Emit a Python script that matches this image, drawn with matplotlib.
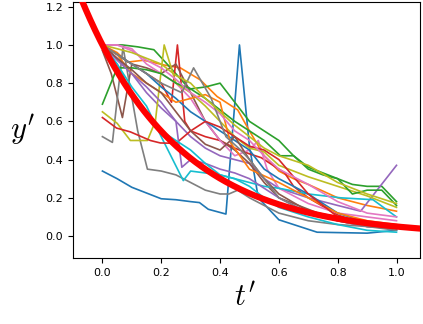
import matplotlib
matplotlib.use('Agg')
import matplotlib.pyplot as plt
import numpy as np

# normalised curves, one per sample (x = t', y = y')
series = [
    ([0, .05, .1, .15, .2, .25, .3, .33, .36, .42, .466, .5, .53, .6, .67, .73, .9, 1.0],
     [.34, .30, .255, .225, .195, .19, .18, .175, .14, .115, 1.0, .47, .2, .085, .05, .02, .015, .03]),
    ([0, .05, .085, .14, .21, .265, .333, .39, .46, .5, .55, .6, .65, .7, .8, .9, 1.0],
     [1.0, .96, .91, .92, .895, .88, .817, .73, .66, .55, .42, .34, .3, .27, .2, .16, .13]),
    ([0, .068, .12, .175, .22, .29, .35, .4, .45, .5, .55, .605, .65, .7, .75, .8, .85, .9, .95, 1.0],
     [1.0, 1.0, .99, .975, .9, .78, .72, .66, .6, .55, .5, .42, .42, .36, .33, .3, .27, .26, .26, .18]),
    ([0, .05, .1, .15, .2, .235, .255, .28, .3, .35, .4, .45, .5, .54, .62, .65, .7, .8, .9, 1.0],
     [1.0, .95, .9, .85, .8, .7, 1.0, .6, .55, .52, .5, .46, .43, .41, .33, .26, .2, .11, .06, .04]),
    ([0, .05, .1, .15, .2, .25, .3, .35, .4, .45, .5, .55, .6, .7, .8, .878, 1.0],
     [1.0, .93, .85, .75, .67, .6, .52, .46, .42, .4, .38, .3, .25, .2, .16, .13, .37]),
    ([0, .03, .068, .1, .15, .2, .25, .3, .35, .4, .45, .5, .55, .6, .7, .8, .9, 1.0],
     [.97, .85, .62, .9, .88, .85, .9, .75, .6, .5, .45, .38, .28, .2, .14, .08, .05, .04]),
    ([0, .05, .1, .15, .2, .25, .3, .35, .4, .45, .5, .53, .56, .6, .7, .8, .9, 1.0],
     [1.0, 1.0, .98, .9, .85, .8, .72, .6, .5, .42, .45, .5, .35, .25, .17, .12, .1, .08]),
    ([0, .034, .07, .12, .153, .2, .25, .3, .35, .4, .43, .46, .5, .55, .6, .7, .8, .9, 1.0],
     [.52, .49, .99, .55, .35, .34, .32, .28, .24, .22, .22, .24, .2, .16, .12, .08, .06, .05, .04]),
    ([0, .05, .095, .153, .18, .21, .25, .3, .35, .4, .45, .5, .55, .6, .7, .8, .9, 1.0],
     [.65, .59, .5, .5, .6, 1.0, .8, .75, .68, .6, .52, .46, .44, .37, .31, .26, .21, .15]),
    ([0, .05, .1, .15, .2, .275, .3, .35, .4, .45, .5, .55, .6, .7, .81, .92, 1.0],
     [1.0, .9, .78, .68, .52, .29, .34, .33, .32, .3, .28, .26, .25, .22, .2, .19, .1]),
    ([0, .05, .1, .15, .2, .25, .3, .35, .4, .45, .5, .55, .6, .7, .8, .9, 1.0],
     [1.0, .95, .9, .85, .78, .72, .65, .6, .55, .5, .45, .35, .3, .22, .12, .07, .04]),
    ([0, .05, .1, .15, .2, .25, .3, .35, .4, .41, .435, .5, .6, .7, .8, .9, 1.0],
     [1.0, .95, .85, .8, .75, .7, .72, .74, .7, .64, .49, .35, .28, .2, .12, .08, .06]),
    ([0, .05, .1, .15, .2, .25, .3, .35, .4, .45, .5, .55, .6, .65, .7, .75, .8, .85, .9, .95, 1.0],
     [.69, .88, .88, .87, .85, .8, .77, .78, .8, .7, .6, .55, .5, .42, .35, .32, .3, .22, .24, .24, .16]),
    ([0, .048, .095, .163, .197, .25, .3, .35, .4, .45, .5, .55, .6, .7, .8, .9, 1.0],
     [.62, .565, .545, .5, .487, .485, .55, .6, .57, .52, .47, .45, .4, .22, .1, .06, .04]),
    ([0, .05, .1, .15, .2, .25, .27, .3, .35, .4, .45, .5, .55, .6, .7, .8, .9, 1.0],
     [1.0, .92, .85, .78, .7, .6, .36, .4, .38, .35, .33, .3, .25, .2, .12, .08, .05, .04]),
    ([0, .05, .1, .15, .2, .25, .3, .35, .4, .45, .5, .55, .6, .7, .8, .9, 1.0],
     [1.0, .93, .87, .8, .75, .65, .55, .48, .45, .52, .4, .3, .22, .13, .1, .06, .05]),
    ([0, .05, .1, .15, .2, .25, .3, .35, .4, .45, .5, .55, .6, .7, .8, .9, 1.0],
     [1.0, 1.0, .97, .92, .88, .82, .75, .7, .64, .55, .5, .42, .35, .27, .18, .12, .1]),
    ([0, .05, .1, .15, .2, .27, .31, .37, .42, .47, .5, .55, .6, .7, .8, .9, 1.0],
     [1.0, .95, .9, .85, .8, .75, .88, .72, .52, .45, .4, .3, .2, .12, .08, .05, .03]),
    ([0, .05, .1, .15, .2, .25, .3, .35, .4, .45, .5, .55, .6, .7, .8, .9, 1.0],
     [1.0, .98, .96, .93, .9, .84, .8, .72, .65, .58, .52, .46, .42, .37, .28, .22, .17]),
    ([0, .05, .1, .15, .2, .25, .3, .35, .4, .45, .5, .55, .6, .7, .8, .9, 1.0],
     [1.0, .9, .75, .65, .55, .5, .45, .38, .32, .3, .26, .2, .15, .1, .06, .03, .02]),
]

# fitted decay y' = exp(-k t')
k_fit = 3.0
t_fit = np.linspace(-0.12, 1.12, 300)

plt.rcParams['mathtext.fontset'] = 'cm'

fig = plt.figure(figsize=(4.23, 3.24), dpi=100)
ax = fig.add_axes([0.1726, 0.2037, 0.8204, 0.7903])

for xs, ys in series:
    ax.plot(xs, ys, lw=1.2)
ax.plot(t_fit, np.exp(-k_fit * t_fit), color='red', lw=4.5, zorder=5)

ax.set_xlim(-0.1, 1.08)
ax.set_ylim(-0.115, 1.225)
ax.set_xticks([0, 0.2, 0.4, 0.6, 0.8, 1.0])
ax.set_yticks([0, 0.2, 0.4, 0.6, 0.8, 1.0, 1.2])
ax.tick_params(labelsize=8)

fig.text(0.58, 0.085, "$t'$", fontsize=22, ha='center', va='center')
fig.text(0.052, 0.6, "$y'$", fontsize=22, ha='center', va='center')

fig.savefig('out.png', dpi=100)
